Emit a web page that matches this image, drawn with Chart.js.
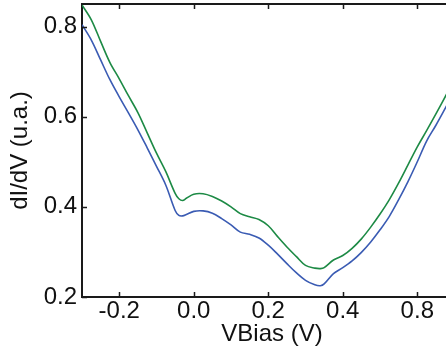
<!DOCTYPE html>
<html><head><meta charset="utf-8">
<script src="https://cdn.jsdelivr.net/npm/chart.js@4/dist/chart.umd.min.js"></script>
<style>
html,body{margin:0;padding:0;background:#fff;overflow:hidden;width:446px;height:354px;}
#wrap{position:relative;width:464px;height:354px;}
</style></head>
<body><div id="wrap"><canvas id="c"></canvas></div>
<script>
const vbias = [-0.3,-0.275,-0.25,-0.225,-0.2,-0.175,-0.15,-0.125,-0.1,-0.075,-0.05,-0.04,-0.03,-0.02,0,0.025,0.05,0.075,0.1,0.125,0.15,0.175,0.2,0.225,0.25,0.275,0.3,0.325,0.34,0.35,0.375,0.4,0.425,0.45,0.475,0.5,0.525,0.55,0.575,0.6,0.625,0.65,0.68];
const blueSeries = [0.804,0.770,0.726,0.682,0.644,0.608,0.571,0.531,0.490,0.448,0.392,0.381,0.380,0.383,0.390,0.391,0.386,0.374,0.360,0.344,0.339,0.331,0.315,0.295,0.274,0.254,0.237,0.227,0.225,0.229,0.252,0.265,0.280,0.299,0.322,0.349,0.379,0.416,0.456,0.500,0.546,0.581,0.626];
const greenSeries = [0.848,0.815,0.767,0.720,0.684,0.646,0.609,0.564,0.519,0.478,0.430,0.418,0.414,0.419,0.428,0.429,0.423,0.413,0.400,0.385,0.378,0.372,0.358,0.334,0.311,0.290,0.270,0.264,0.263,0.265,0.282,0.292,0.308,0.329,0.355,0.384,0.416,0.453,0.493,0.533,0.569,0.606,0.652];
const xTickValues = [-0.2,0,0.2,0.4,0.6];
const xTickLabels = ['-0.2','0.0','0.2','0.4','0.8'];
const yTickValues = [0.2,0.4,0.6,0.8];
const yTickLabels = ['0.2','0.4','0.6','0.8'];

const FONT = 'Liberation Sans, Arial, sans-serif';
const AX = '#1a1a1a';

const frame = {
  id:'frame',
  afterDraw(chart){
    const {ctx, chartArea:a, scales} = chart;
    ctx.save();
    ctx.strokeStyle = AX; ctx.lineWidth = 2;
    ctx.beginPath();
    ctx.moveTo(a.left, a.top); ctx.lineTo(a.right+2, a.top);
    ctx.moveTo(a.right, a.top); ctx.lineTo(a.right, a.bottom);
    ctx.stroke();
    ctx.lineWidth = 1.5;
    ctx.beginPath();
    scales.x.ticks.forEach(t=>{
      const px = Math.round(scales.x.getPixelForValue(t.value))+0.5;
      ctx.moveTo(px, a.bottom); ctx.lineTo(px, a.bottom-5);
      ctx.moveTo(px, a.top); ctx.lineTo(px, a.top+5);
    });
    scales.y.ticks.forEach(t=>{
      const py = Math.round(scales.y.getPixelForValue(t.value))+0.5;
      ctx.moveTo(a.left, py); ctx.lineTo(a.left+5, py);
      ctx.moveTo(a.right, py); ctx.lineTo(a.right-5, py);
    });
    ctx.stroke();
    ctx.restore();
  }
};

new Chart(document.getElementById('c'), {
  type:'line',
  data:{
    datasets:[
      {label:'blue', data: vbias.map((v,i)=>({x:v,y:blueSeries[i]})), borderColor:'#3a5bb3', borderWidth:1.6, pointRadius:0, tension:0.35, fill:false},
      {label:'green', data: vbias.map((v,i)=>({x:v,y:greenSeries[i]})), borderColor:'#1d8a45', borderWidth:1.6, pointRadius:0, tension:0.35, fill:false}
    ]
  },
  options:{
    responsive:true, maintainAspectRatio:false, animation:false,
    layout:{padding:{top:4,right:2,left:0,bottom:0}},
    plugins:{legend:{display:false}, tooltip:{enabled:false}},
    scales:{
      x:{type:'linear', min:-0.3, max:0.72,
        afterBuildTicks(s){ s.ticks = xTickValues.map(v=>({value:v})); },
        afterFit(s){ s.height = 57; s.paddingLeft = 0; s.paddingRight = 0; },
        grid:{display:true, drawOnChartArea:false, drawTicks:false},
        border:{display:true, color:AX, width:2},
        ticks:{color:'#111', font:{family:FONT, size:24}, padding:0, maxRotation:0,
          callback:(v)=>{const i = xTickValues.findIndex(t=>Math.abs(t-v)<1e-9); return i>=0?xTickLabels[i]:'';}},
        title:{display:true, text:'VBias (V)', color:'#111', font:{family:FONT, size:24}, padding:{top:0,bottom:5}}
      },
      y:{type:'linear', min:0.2, max:0.85,
        afterBuildTicks(s){ s.ticks = yTickValues.map(v=>({value:v})); },
        afterFit(s){ s.width = 82; s.paddingTop = 0; s.paddingBottom = 0; },
        grid:{display:true, drawOnChartArea:false, drawTicks:false},
        border:{display:true, color:AX, width:2},
        ticks:{color:'#111', font:{family:FONT, size:24}, padding:5,
          callback:(v)=>{const i = yTickValues.findIndex(t=>Math.abs(t-v)<1e-9); return i>=0?yTickLabels[i]:'';}},
        title:{display:true, text:'dI/dV (u.a.)', color:'#111', font:{family:FONT, size:24}, padding:{top:6,bottom:0}}
      }
    }
  },
  plugins:[frame]
});
</script></body></html>
